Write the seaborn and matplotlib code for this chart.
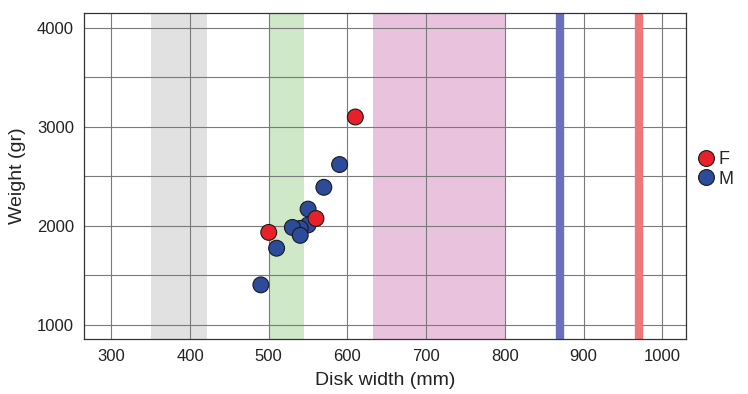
import pandas as pd
import seaborn as sns
import matplotlib.pyplot as plt

# points (M first so the F points draw on top)
disk_width = [590, 570, 550, 550, 540, 530, 540, 510, 490, 610, 500, 560]
weight = [2620, 2390, 2170, 2010, 1975, 1985, 1905, 1775, 1405, 3100, 1935, 2075]
sex = ["M", "M", "M", "M", "M", "M", "M", "M", "M", "F", "F", "F"]

# shaded ranges and reference lines (mm)
band_ranges = [(350, 422), (500, 545), (633, 800)]
band_colors = ["#dcdcdc", "#c6e4bf", "#e6b9d8"]
line_pos = [870, 970]
line_colors = ["#6a70bb", "#ee777c"]

df = pd.DataFrame({"Disk width (mm)": disk_width, "Weight (gr)": weight, "sex": sex})

sns.set_theme(style="whitegrid")
plt.rcParams["font.family"] = ["Liberation Sans", "DejaVu Sans"]

fig = plt.figure(figsize=(7.48, 3.94), dpi=100)
ax = fig.add_axes([0.112, 0.14, 0.805, 0.827])

for (lo, hi), c in zip(band_ranges, band_colors):
    ax.axvspan(lo, hi, color=c, alpha=0.85, lw=0, zorder=0.5)
for x, c in zip(line_pos, line_colors):
    ax.axvline(x, color=c, lw=6, zorder=0.6)

sns.scatterplot(data=df, x="Disk width (mm)", y="Weight (gr)", hue="sex",
                hue_order=["F", "M"], palette={"F": "#e8202a", "M": "#2c4b9b"},
                s=130, edgecolor="#1a1a1a", linewidth=0.8, zorder=3, ax=ax)

ax.set_xlim(265, 1030)
ax.set_ylim(860, 4150)
ax.set_xticks(range(300, 1001, 100))
ax.set_yticks([1000, 2000, 3000, 4000])
ax.set_yticks([1500, 2500, 3500], minor=True)
ax.grid(True, which="both", color="#7a7a7a", lw=0.8)
ax.set_axisbelow(True)

for s in ax.spines.values():
    s.set_color("#333333")
    s.set_linewidth(0.9)
ax.tick_params(axis="both", which="major", length=4, width=0.8, color="#333333",
               labelsize=12, labelcolor="#222222", pad=3)
ax.tick_params(axis="y", which="minor", length=0)
ax.set_xlabel("Disk width (mm)", fontsize=14, color="#222222", labelpad=6)
ax.set_ylabel("Weight (gr)", fontsize=14, color="#222222", labelpad=8)

ax.legend(title=None, loc="center left", bbox_to_anchor=(1.0, 0.52),
          frameon=False, fontsize=13, handletextpad=0.1, labelspacing=0.15,
          handlelength=1.2, borderpad=0.2, borderaxespad=0.3)

fig.savefig("out.png", dpi=100)
